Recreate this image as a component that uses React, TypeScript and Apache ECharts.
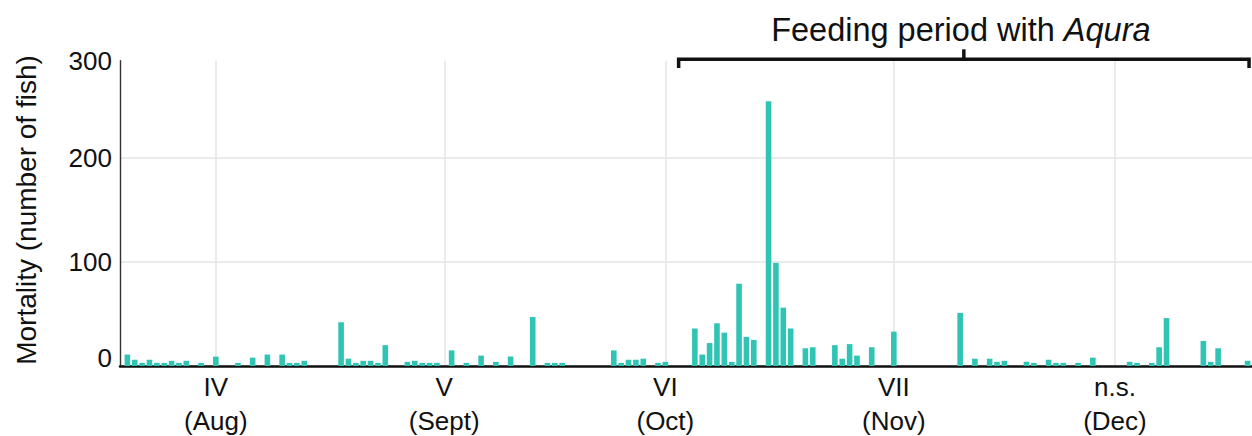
import React, { useEffect, useRef } from "react";
import * as echarts from "echarts";

// Day number (1 = first day of August) of each day that had mortality
const days = [
  1, 2, 3, 4, 5, 6, 7, 8, 9, 11, 13, 16, 18, 20, 22, 23, 24, 25,
  30, 31, 32, 33, 34, 35, 36, 39, 40, 41, 42, 43, 45, 47, 49, 51, 53,
  56, 58, 59, 60, 67, 68, 69, 70, 71, 73, 74,
  78, 79, 80, 81, 82, 83, 84, 85, 86, 88, 89, 90, 91, 93, 94, 97, 98, 99, 100, 102, 105,
  114, 116, 118, 119, 120, 123, 124, 126, 127, 128, 130, 132,
  137, 138, 140, 141, 142, 147, 148, 149, 153,
];
// Mortality (number of fish) on those days
const mortality = [
  11, 6, 3, 6, 3, 3, 5, 3, 5, 3, 9, 3, 8, 11, 11, 3, 3, 5,
  42, 7, 3, 5, 5, 3, 20, 4, 5, 3, 3, 3, 15, 3, 10, 4, 9,
  47, 3, 3, 3, 15, 3, 6, 6, 7, 3, 4,
  36, 11, 22, 41, 32, 4, 79, 28, 25, 254, 99, 56, 36, 17, 18, 20, 7, 21, 10, 18, 33,
  51, 7, 7, 4, 5, 4, 3, 6, 3, 3, 3, 8,
  4, 3, 3, 18, 46, 24, 4, 17, 5,
];

const periodDays = [13, 44, 74, 105, 135];
const periodLabels = ["IV", "V", "VI", "VII", "n.s."];
const monthLabels = ["(Aug)", "(Sept)", "(Oct)", "(Nov)", "(Dec)"];

const yTickValues = [0, 100, 200];
const yTopLabel = "300";
const yMax = 293;
const dayMax = 153.6;

const feedingStart = 75.8;
const feedingEnd = 153.2;
const feedingTitle = "Feeding period with ";
const feedingProduct = "Aqura";
const yName = "Mortality (number of fish)";

const FONT = "'Liberation Sans', Arial, Helvetica, sans-serif";
const INK = "#111111";
const GRID = "#e4e4e4";
const BAR = "#2fc4b4";

export default function App() {
  const ref = useRef<HTMLDivElement>(null);

  useEffect(() => {
    document.body.style.margin = "0";
    const chart = echarts.init(ref.current as HTMLDivElement, null, { renderer: "svg" });

    chart.setOption({
      animation: false,
      grid: {
        left: 120,
        right: 0,
        top: 60.7,
        bottom: 70,
        containLabel: false,
        outerBoundsMode: "none",
      },
      xAxis: {
        type: "value",
        min: 0,
        max: dayMax,
        axisLine: { show: true, onZero: false, lineStyle: { color: INK, width: 2.5 } },
        axisTick: { show: false, customValues: periodDays },
        axisLabel: {
          customValues: periodDays,
          formatter: (v: number) => {
            const i = periodDays.indexOf(v);
            return i < 0 ? "" : `${periodLabels[i]}\n${monthLabels[i]}`;
          },
          fontSize: 26,
          lineHeight: 34,
          color: INK,
          fontFamily: FONT,
          margin: 4,
        },
        splitLine: { show: true, lineStyle: { color: GRID, width: 1.5 } },
      },
      yAxis: {
        type: "value",
        min: 0,
        max: yMax,
        interval: 100,
        axisLine: { show: true, lineStyle: { color: "#333333", width: 1.4 } },
        axisTick: { show: false },
        axisLabel: {
          showMaxLabel: true,
          showMinLabel: true,
          fontSize: 26,
          color: INK,
          fontFamily: FONT,
          margin: 8,
          formatter: (v: number) => {
            if (v >= yMax) return yTopLabel;
            if (v === yTickValues[0]) return `{z|${v}}`;
            return String(v);
          },
          rich: { z: { fontSize: 26, fontFamily: FONT, color: INK, padding: [0, 0, 16, 0] } },
        },
        splitLine: {
          show: true,
          lineStyle: { color: [GRID, GRID, GRID, "rgba(0,0,0,0)"], width: 1.5 },
        },
      },
      series: [
        {
          type: "bar",
          data: days.map((d, i) => [d, mortality[i]]),
          barWidth: 5.6,
          itemStyle: { color: BAR },
          z: 3,
        },
      ],
    });

    const [xs] = chart.convertToPixel({ gridIndex: 0 }, [feedingStart, 0]) as number[];
    const [xe] = chart.convertToPixel({ gridIndex: 0 }, [feedingEnd, 0]) as number[];
    const xc = (xs + xe) / 2;
    const yLine = 59.3;

    chart.setOption({
      graphic: [
        {
          type: "polyline",
          shape: { points: [[xs, 68], [xs, yLine], [xe, yLine], [xe, 68]] },
          style: { stroke: INK, lineWidth: 3.5, fill: "none" },
          z: 10,
        },
        {
          type: "line",
          shape: { x1: xc, y1: yLine, x2: xc, y2: 49.3 },
          style: { stroke: INK, lineWidth: 3.5 },
          z: 10,
        },
        {
          type: "text",
          x: xc - 3,
          y: 30,
          style: {
            text: `${feedingTitle}{i|${feedingProduct}}`,
            rich: { i: { fontStyle: "italic", fontSize: 32.5, fontFamily: FONT, fill: INK } },
            fontSize: 32.5,
            fontFamily: FONT,
            fill: INK,
            align: "center",
            verticalAlign: "middle",
          },
          z: 10,
        },
        {
          type: "text",
          x: 26,
          y: 210,
          rotation: Math.PI / 2,
          style: {
            text: yName,
            fontSize: 28,
            fontFamily: FONT,
            fill: INK,
            align: "center",
            verticalAlign: "middle",
          },
          z: 10,
        },
      ],
    });

    return () => chart.dispose();
  }, []);

  return <div ref={ref} style={{ width: 1252, height: 436 }} />;
}
